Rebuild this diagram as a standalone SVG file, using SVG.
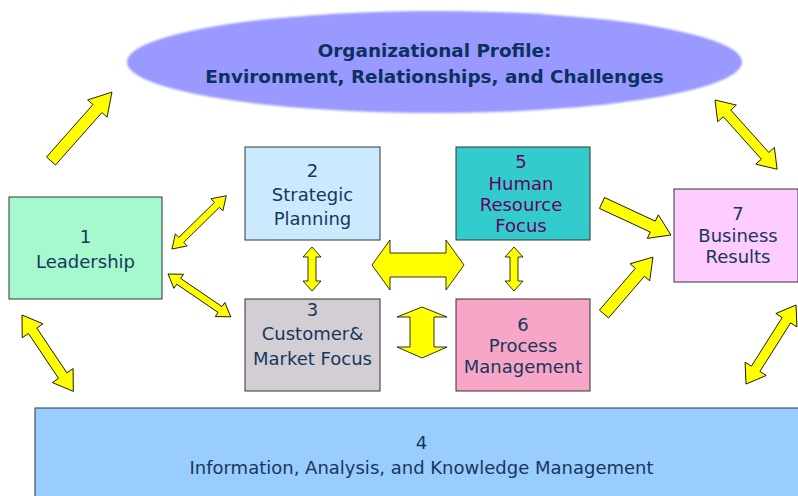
<svg xmlns="http://www.w3.org/2000/svg" width="798" height="496" viewBox="0 0 798 496">
<style>
.box{stroke:#333;stroke-width:1}
.t{font-family:"DejaVu Sans","Verdana",sans-serif;font-size:18px;fill:#17375e;text-anchor:middle}
.tp{fill:#660066}
.title{font-family:"DejaVu Sans","Verdana",sans-serif;font-size:18.4px;font-weight:bold;fill:#0b3160;text-anchor:middle}
.arr{fill:#ffff00;stroke:#000;stroke-width:0.8;stroke-linejoin:miter}
</style>
<defs>
<filter id="soft" x="-5%" y="-10%" width="110%" height="120%"><feGaussianBlur stdDeviation="0.8"/></filter>
</defs>
<rect width="798" height="496" fill="#fff"/>
<g id="profile">
<ellipse cx="434.5" cy="62" rx="307.5" ry="51" fill="#9999ff" filter="url(#soft)"/>
<text class="title" x="434.5" y="57">Organizational Profile:</text>
<text class="title" x="434.5" y="83">Environment, Relationships, and Challenges</text>
</g>
<g id="info">
<rect class="box" x="35" y="408" width="780" height="100" fill="#99ccff"/>
<text class="t" x="421.5" y="449">4</text>
<text class="t" x="421.5" y="474">Information, Analysis, and Knowledge Management</text>
</g>
<g id="leadership">
<rect class="box" x="9" y="197" width="153" height="102" fill="#a6f8cd"/>
<text class="t" x="85.5" y="243">1</text>
<text class="t" x="85.5" y="268">Leadership</text>
</g>
<g id="strategic">
<rect class="box" x="245" y="147" width="135" height="93" fill="#cceaff"/>
<text class="t" x="312.5" y="177">2</text>
<text class="t" x="312.5" y="201">Strategic</text>
<text class="t" x="312.5" y="225">Planning</text>
</g>
<g id="customer">
<rect class="box" x="245" y="299" width="135" height="92" fill="#d3ced4"/>
<text class="t" x="312.5" y="316">3</text>
<text class="t" x="312.5" y="340">Customer&amp;</text>
<text class="t" x="312.5" y="365">Market Focus</text>
</g>
<g id="hr">
<rect class="box" x="456" y="147" width="134" height="93" fill="#33cccc"/>
<text class="t tp" x="521" y="168">5</text>
<text class="t tp" x="521" y="190">Human</text>
<text class="t tp" x="521" y="211">Resource</text>
<text class="t tp" x="521" y="232">Focus</text>
</g>
<g id="process">
<rect class="box" x="456" y="299" width="134" height="92" fill="#f8a6c8"/>
<text class="t" x="523" y="331">6</text>
<text class="t" x="523" y="352">Process</text>
<text class="t" x="523" y="373">Management</text>
</g>
<g id="results">
<rect class="box" x="674" y="189" width="124" height="93" fill="#ffccff"/>
<text class="t" x="738" y="220">7</text>
<text class="t" x="738" y="242">Business</text>
<text class="t" x="738" y="263">Results</text>
</g>
<g id="connectors">
<polygon class="arr" points="0,-6 70,-6 70,-13 92,0 70,13 70,6 0,6" transform="translate(51,161) rotate(-48.5)"/>
<polygon class="arr" points="0,0 13,-8.5 13,-3.5 63,-3.5 63,-8.5 76,0 63,8.5 63,3.5 13,3.5 13,8.5" transform="translate(172,249) rotate(-44.5)"/>
<polygon class="arr" points="0,0 13,-8.5 13,-3.5 63,-3.5 63,-8.5 76,0 63,8.5 63,3.5 13,3.5 13,8.5" transform="translate(168,274) rotate(34.3)"/>
<polygon class="arr" points="0,0 19,-12.5 19,-5 73,-5 73,-12.5 92,0 73,12.5 73,5 19,5 19,12.5" transform="translate(22,315) rotate(56.1)"/>
<polygon class="arr" points="312,247 321,257 316,257 316,281 321,281 312,291 303,281 308,281 308,257 303,257"/>
<polygon class="arr" points="514,247 523,257 518,257 518,281 523,281 514,291 505,281 510,281 510,257 505,257"/>
<polygon class="arr" points="372,265 390,240 390,253 446,253 446,240 464,265 446,290 446,277 390,277 390,290"/>
<polygon class="arr" points="422,307 447,317 434,317 434,347 447,347 422,358 397,347 410,347 410,317 397,317"/>
<polygon class="arr" points="0,-6 56,-6 56,-13 76,0 56,13 56,6 0,6" transform="translate(602,203) rotate(24.9)"/>
<polygon class="arr" points="0,-6 55,-6 55,-13 75,0 55,13 55,6 0,6" transform="translate(604,314) rotate(-49.3)"/>
<polygon class="arr" points="0,0 18,-12.5 18,-5 75,-5 75,-12.5 93,0 75,12.5 75,5 18,5 18,12.5" transform="translate(715,100) rotate(48.1)"/>
<polygon class="arr" points="0,0 18,-12.5 18,-5 75.5,-5 75.5,-12.5 93.5,0 75.5,12.5 75.5,5 18,5 18,12.5" transform="translate(796,305) rotate(122.3)"/>
</g>
</svg>
